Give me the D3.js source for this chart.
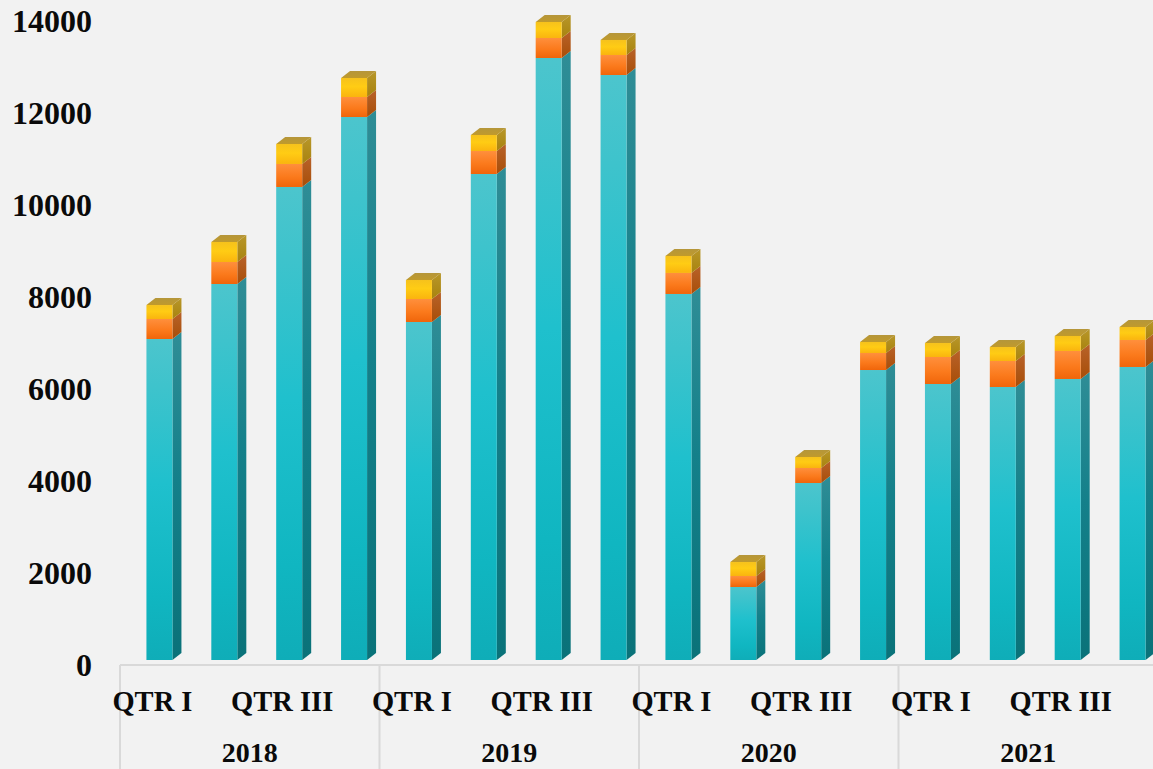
<!DOCTYPE html>
<html><head><meta charset="utf-8">
<script src="https://cdn.jsdelivr.net/npm/d3@7"></script>
<style>html,body{margin:0;padding:0;background:#f2f2f2}svg{display:block}
text{font-family:"Liberation Serif",serif;font-weight:700;fill:#0a0a0a}</style>
</head><body><svg id="c" width="1153" height="769"></svg>
<script>
const years = ["2018","2019","2020","2021"];
const quarters = ["QTR I","QTR II","QTR III","QTR IV"];
const yTicks = [0,2000,4000,6000,8000,10000,12000,14000];
const teal   = [6978,8174,10283,11804,7348,10565,13087,12717,7957,1587,3848,6304,6000,5935,6109,6370];
const orange = [435,478,500,435,500,500,435,435,457,239,326,370,587,565,609,587];
const yellow = [304,435,435,413,413,348,348,326,370,304,239,239,304,304,326,283];
const seriesNames = ["teal","orange","yellow"];

const W=1153,H=769,base=660,axisY=665,left=120,bandW=64.875,dx=9,dy=7,barW=26,xShift=7;
const svg=d3.select("#c");
svg.append("rect").attr("width",W).attr("height",H).attr("fill","#f2f2f2");
const defs=svg.append("defs");
function grad(id,stops){
  const g=defs.append("linearGradient").attr("id",id).attr("x1",0).attr("y1",0).attr("x2",0).attr("y2",1);
  stops.forEach(s=>g.append("stop").attr("offset",s[0]).attr("stop-color",s[1]));
}
grad("fteal",[[0,"#4cc5cd"],[.15,"#3ec3cc"],[.45,"#1fc0cd"],[.8,"#10b6c1"],[1,"#0fadb8"]]);
grad("steal",[[0,"#2f8d96"],[.45,"#14808a"],[1,"#0a7279"]]);
grad("forange",[[0,"#ff8f3c"],[.55,"#fb7a1c"],[1,"#f0650a"]]);
grad("sorange",[[0,"#b8622a"],[1,"#a84e08"]]);
grad("fyellow",[[0,"#f6c21c"],[.45,"#ffcc14"],[1,"#fab40e"]]);
grad("syellow",[[0,"#b8972a"],[1,"#a8830e"]]);
grad("ttop",[[0,"#b5963a"],[1,"#c09a2c"]]);

const keys=d3.range(teal.length);
const table=keys.map(i=>({i,teal:teal[i],orange:orange[i],yellow:yellow[i]}));
const stacked=d3.stack().keys(seriesNames)(table);
const y=d3.scaleLinear().domain([0,14000]).range([base,base-644]);
const x=d3.scaleBand().domain(keys).range([left,left+bandW*16]);
const xGroup=d3.scaleBand().domain(years).range([left,left+bandW*16]);

// floor line and group separators
svg.append("line").attr("x1",left).attr("x2",W).attr("y1",axisY).attr("y2",axisY).attr("stroke","#d9d9d9").attr("stroke-width",2);
svg.selectAll(".sep").data(years).join("line").attr("class","sep")
  .attr("x1",d=>xGroup(d)).attr("x2",d=>xGroup(d)).attr("y1",axisY).attr("y2",H)
  .attr("stroke","#d9d9d9").attr("stroke-width",2);

// y axis
const yAxis=svg.append("g").attr("transform","translate(92,0)")
  .call(d3.axisLeft(y).tickValues(yTicks).tickSize(0).tickPadding(0).tickFormat(d3.format("d")));
yAxis.select(".domain").remove();
yAxis.selectAll("text").attr("y",4.5).attr("dy","0.34em").style("font-size","32px").style("font-family",'"Liberation Serif",serif').attr("fill","#0a0a0a");

// x axis quarter labels
const xAxis=svg.append("g").attr("transform",`translate(0,${axisY})`)
  .call(d3.axisBottom(x).tickSize(0).tickPadding(0).tickFormat(i=>i%2===0?quarters[i%4]:""));
xAxis.select(".domain").remove();
xAxis.selectAll("text").attr("y",36).attr("dy","0.34em").style("font-size","28.5px").style("font-family",'"Liberation Serif",serif').attr("fill","#0a0a0a");

// year labels
svg.selectAll(".yr").data(years).join("text").attr("class","yr")
  .attr("x",d=>xGroup(d)+xGroup.bandwidth()/2).attr("y",752).attr("dy","0.34em")
  .attr("text-anchor","middle").style("font-size","28px").text(d=>d);

// 3D bars
const bars=svg.append("g");
keys.forEach(i=>{
  const x0=x(i)+x.bandwidth()/2+xShift-barW/2, x1=x0+barW;
  const g=bars.append("g");
  stacked.forEach((s,k)=>{
    const yb=y(s[i][0]), yt=y(s[i][1]);
    g.append("polygon")
      .attr("points",[[x1,yt],[x1+dx,yt-dy],[x1+dx,yb-dy],[x1,yb]].join(" "))
      .attr("fill",`url(#s${s.key})`);
    g.append("rect").attr("x",x0).attr("y",yt).attr("width",barW).attr("height",yb-yt)
      .attr("fill",`url(#f${s.key})`);
    if(k===stacked.length-1){
      g.append("polygon")
        .attr("points",[[x0,yt],[x0+dx,yt-dy],[x1+dx,yt-dy],[x1,yt]].join(" "))
        .attr("fill","url(#ttop)");
    }
  });
});
</script></body></html>
